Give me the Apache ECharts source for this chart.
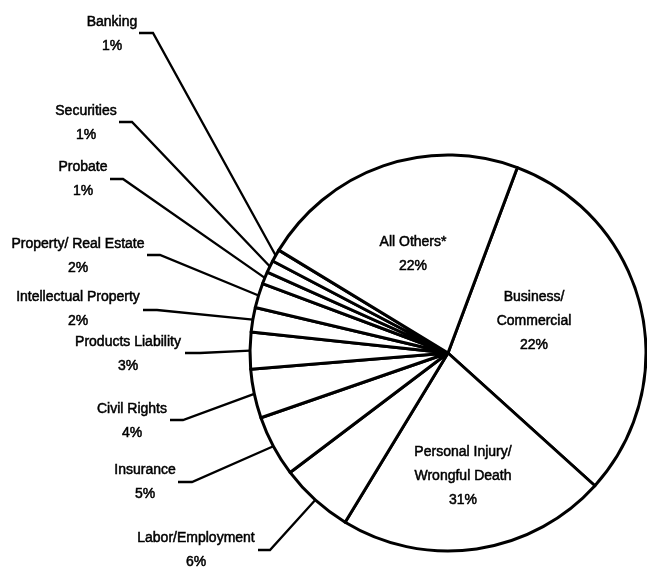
<!DOCTYPE html>
<html>
<head>
<meta charset="utf-8">
<script src="https://cdn.jsdelivr.net/npm/echarts@6/dist/echarts.min.js"></script>
<style>
html, body { margin: 0; background: #fff; }
#chart { width: 647px; height: 568px; }
</style>
</head>
<body>
<div id="chart"></div>
<script>
// categories, clockwise from the top boundary
let names = ['Business/\nCommercial', 'Personal Injury/\nWrongful Death', 'Labor/Employment', 'Insurance',
    'Civil Rights', 'Products Liability', 'Intellectual Property', 'Property/ Real Estate',
    'Probate', 'Securities', 'Banking', 'All Others*'];
// percentages as printed on the chart
let printedPct = [22, 31, 6, 5, 4, 3, 2, 2, 1, 1, 1, 22];
// slice sizes as drawn (the two big slices are drawn the other way round from their labels)
let drawnShare = [31, 22, 6, 5, 4, 3, 2, 2, 1, 1, 1, 22];

// label block centres
let labelAt = [[534, 321], [463, 476], [196, 550], [145, 482], [132, 421], [128, 354],
    [78, 309], [78, 256], [83, 179], [86, 123], [112, 34], [413, 254]];
// leader ticks: [x start, x elbow, y], null = label inside
let tickAt = [null, null, [258, 270, 550], [178, 192, 482], [170, 183, 420], [185, 200, 353],
    [143, 157, 310], [147, 160, 255], [110, 123, 179], [119, 132, 122], [139, 153, 33], null];

let cx = 448, cy = 353, radius = 198, startAngle = 69.5;

// rim point at the middle of slice i
function rimPoint(i){
    let total = drawnShare.reduce((a, b) => a + b, 0);
    let before = 0;
    for(let k = 0; k < i; k++) before += drawnShare[k];
    let mid = (startAngle - (before + drawnShare[i] / 2) / total * 360) * Math.PI / 180;
    return [cx + radius * Math.cos(mid), cy - radius * Math.sin(mid)];
}

let chart = echarts.init(document.getElementById('chart'));
let option = {
    animation: false,
    series: [{
        type: 'pie',
        center: [cx, cy],
        radius: radius,
        startAngle: startAngle,
        clockwise: true,
        avoidLabelOverlap: false,
        emphasis: { disabled: true },
        itemStyle: {
            color: '#fff',
            borderColor: '#000',
            borderWidth: 3
        },
        label: {
            position: 'outside',
            formatter: p => p.name + '\n' + printedPct[p.dataIndex] + '%',
            fontFamily: 'Liberation Sans',
            fontSize: 14,
            lineHeight: 24,
            color: '#000',
            textBorderColor: '#000',
            textBorderWidth: 0.5,
            align: 'center'
        },
        labelLine: {
            show: true,
            lineStyle: { color: '#000', width: 2.3 }
        },
        labelLayout: function(p){
            let i = p.dataIndex;
            let out = { x: labelAt[i][0], y: labelAt[i][1], align: 'center', verticalAlign: 'middle' };
            let t = tickAt[i];
            if(t){
                out.labelLinePoints = [rimPoint(i), [t[1], t[2]], [t[0], t[2]]];
            }
            return out;
        },
        data: names.map((n, i) => ({
            name: n,
            value: drawnShare[i],
            labelLine: { show: tickAt[i] != null }
        }))
    }]
};
chart.setOption(option);
</script>
</body>
</html>
